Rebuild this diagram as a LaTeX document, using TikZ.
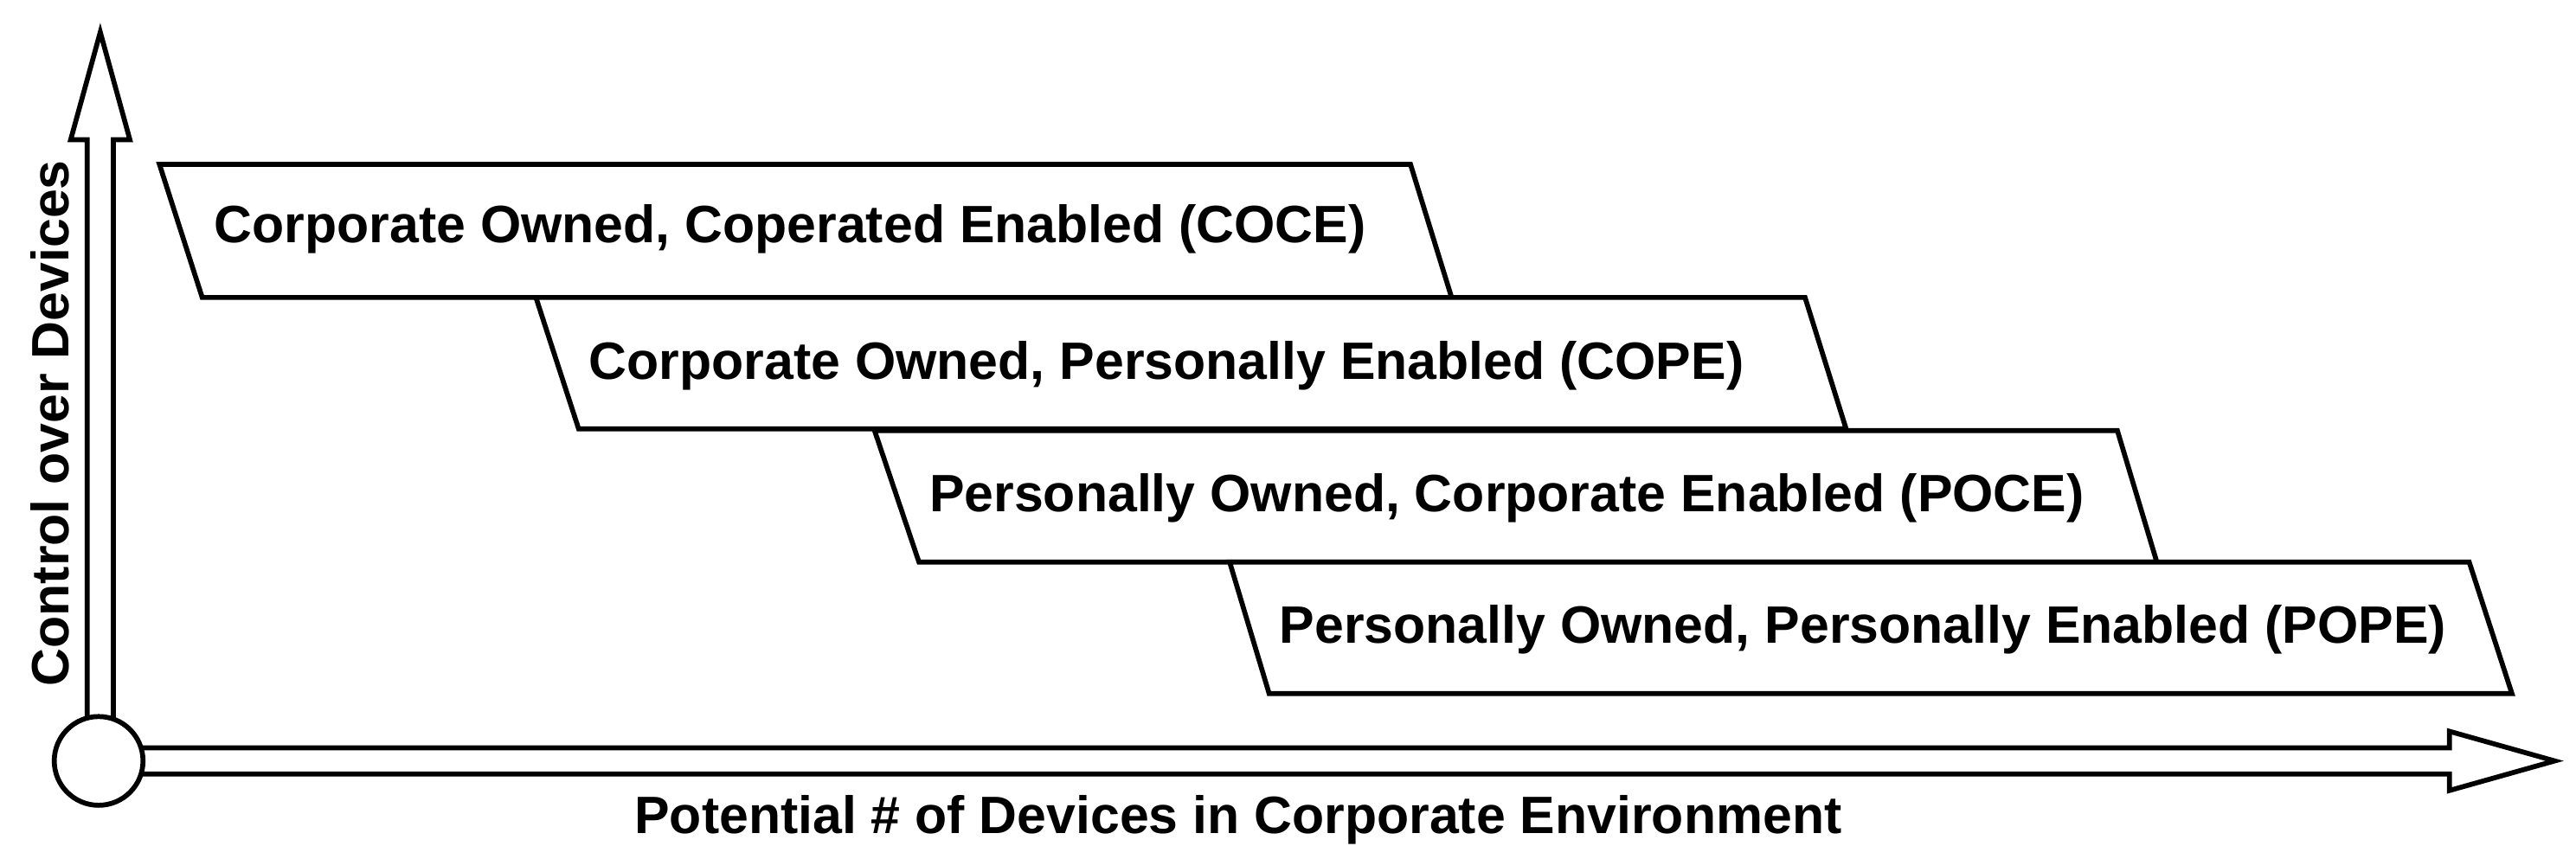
\documentclass[tikz,border=0pt]{standalone}
\usepackage{fontspec}
\setmainfont{Liberation Sans}
\begin{document}
\begin{tikzpicture}[x=0.5pt,y=-0.5pt,
  outline/.style={draw=black,line width=1.5pt,line join=miter,fill=white},
  lbl/.style={anchor=base west,inner sep=0pt,font=\fontsize{16}{19}\selectfont\bfseries}]
\useasboundingbox (0,0) rectangle (1567,522.68);
% boxes
\draw[outline] (97,100) -- (858,100) -- (883,181) -- (123,181) -- cycle;
\draw[outline] (326,181) -- (1098,181) -- (1123,261) -- (352,261) -- cycle;
\draw[outline] (532,262) -- (1288,262) -- (1312,342) -- (559,342) -- cycle;
\draw[outline] (748,342) -- (1502,342) -- (1528,422) -- (772,422) -- cycle;
\node[lbl] (coce) at (130,147.4) {Corporate Owned, Coperated Enabled (COCE)};
\node[lbl] (cope) at (358,230.6) {Corporate Owned, Personally Enabled (COPE)};
\node[lbl] (poce) at (565,311.4) {Personally Owned, Corporate Enabled (POCE)};
\node[lbl] (pope) at (778,391.6) {Personally Owned, Personally Enabled (POPE)};
% axes
\coordinate (ytip) at (61,19.6);
\coordinate (xtip) at (1554,463);
\draw[outline] (53,463) -- (53,85) -- (43,85) -- (ytip) -- (79,85) -- (69,85) -- (69,463) -- cycle;
\draw[outline] (60,455) -- (1490,455) -- (1490,445) -- (xtip) -- (1490,481) -- (1490,471) -- (60,471) -- cycle;
\node[circle,draw=black,line width=1.5pt,fill=white,minimum size=27pt,inner sep=0pt] (origin) at (60,463) {};
\node[lbl] (xlabel) at (385.6,507) {Potential \# of Devices in Corporate Environment};
\node[lbl,rotate=90] (ylabel) at (41.6,418) {Control over Devices};
\end{tikzpicture}
\end{document}
